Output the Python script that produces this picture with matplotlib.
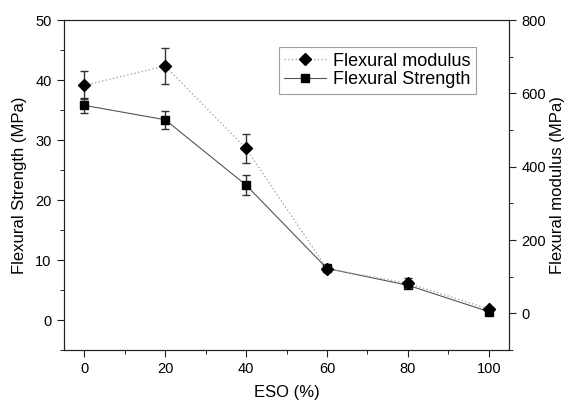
import matplotlib.pyplot as plt
from matplotlib.ticker import MultipleLocator

plt.rcParams['font.family'] = ['Liberation Sans', 'DejaVu Sans']

eso = [0, 20, 40, 60, 80, 100]
strength = [35.8, 33.4, 22.5, 8.6, 5.8, 1.4]
strength_err = [1.3, 1.5, 1.6, 0.4, 0.5, 0.3]
modulus = [622, 675, 450, 122, 82, 12]
modulus_err = [38, 50, 40, 8, 14, 6]

fig = plt.figure(figsize=(5.64, 4.12), dpi=100)
ax = fig.add_axes([0.1135, 0.1505, 0.789, 0.8005])
ax2 = ax.twinx()

l1 = ax2.errorbar(eso, modulus, yerr=modulus_err, color='#aaaaaa', ls=':', lw=1,
                  marker='D', ms=6, mfc='black', mec='black', ecolor='#333333',
                  elinewidth=1, capsize=3, label='Flexural modulus')
l2 = ax.errorbar(eso, strength, yerr=strength_err, color='#555555', ls='-', lw=0.8,
                 marker='s', ms=5.5, mfc='black', mec='black', ecolor='#333333',
                 elinewidth=1, capsize=3, label='Flexural Strength')

ax.set_xlim(-5, 105)
ax.set_ylim(-5, 50)
ax2.set_ylim(-100, 800)
ax.xaxis.set_major_locator(MultipleLocator(20))
ax.xaxis.set_minor_locator(MultipleLocator(10))
ax.yaxis.set_major_locator(MultipleLocator(10))
ax.yaxis.set_minor_locator(MultipleLocator(5))
ax2.yaxis.set_major_locator(MultipleLocator(200))
ax2.yaxis.set_minor_locator(MultipleLocator(100))

for a in (ax, ax2):
    a.tick_params(which='major', direction='out', length=5, labelsize=10.5,
                  color='#222222', pad=4)
    a.tick_params(which='minor', direction='out', length=3)
    for s in a.spines.values():
        s.set_color('#222222')

ax.set_xlabel('ESO (%)', fontsize=12, labelpad=6)
ax.set_ylabel('Flexural Strength (MPa)', fontsize=12, labelpad=6)
ax2.set_ylabel('Flexural modulus (MPa)', fontsize=12, labelpad=3)

leg = ax2.legend([l1[0], l2[0]], ['Flexural modulus', 'Flexural Strength'],
                 loc='upper left', bbox_to_anchor=(0.483, 0.918), borderaxespad=0,
                 fontsize=13, fancybox=False, edgecolor='#888888', handlelength=2.3,
                 borderpad=0.3, labelspacing=0.1, handletextpad=0.4)
leg.get_frame().set_linewidth(0.8)

fig.savefig('out.png', dpi=100)
